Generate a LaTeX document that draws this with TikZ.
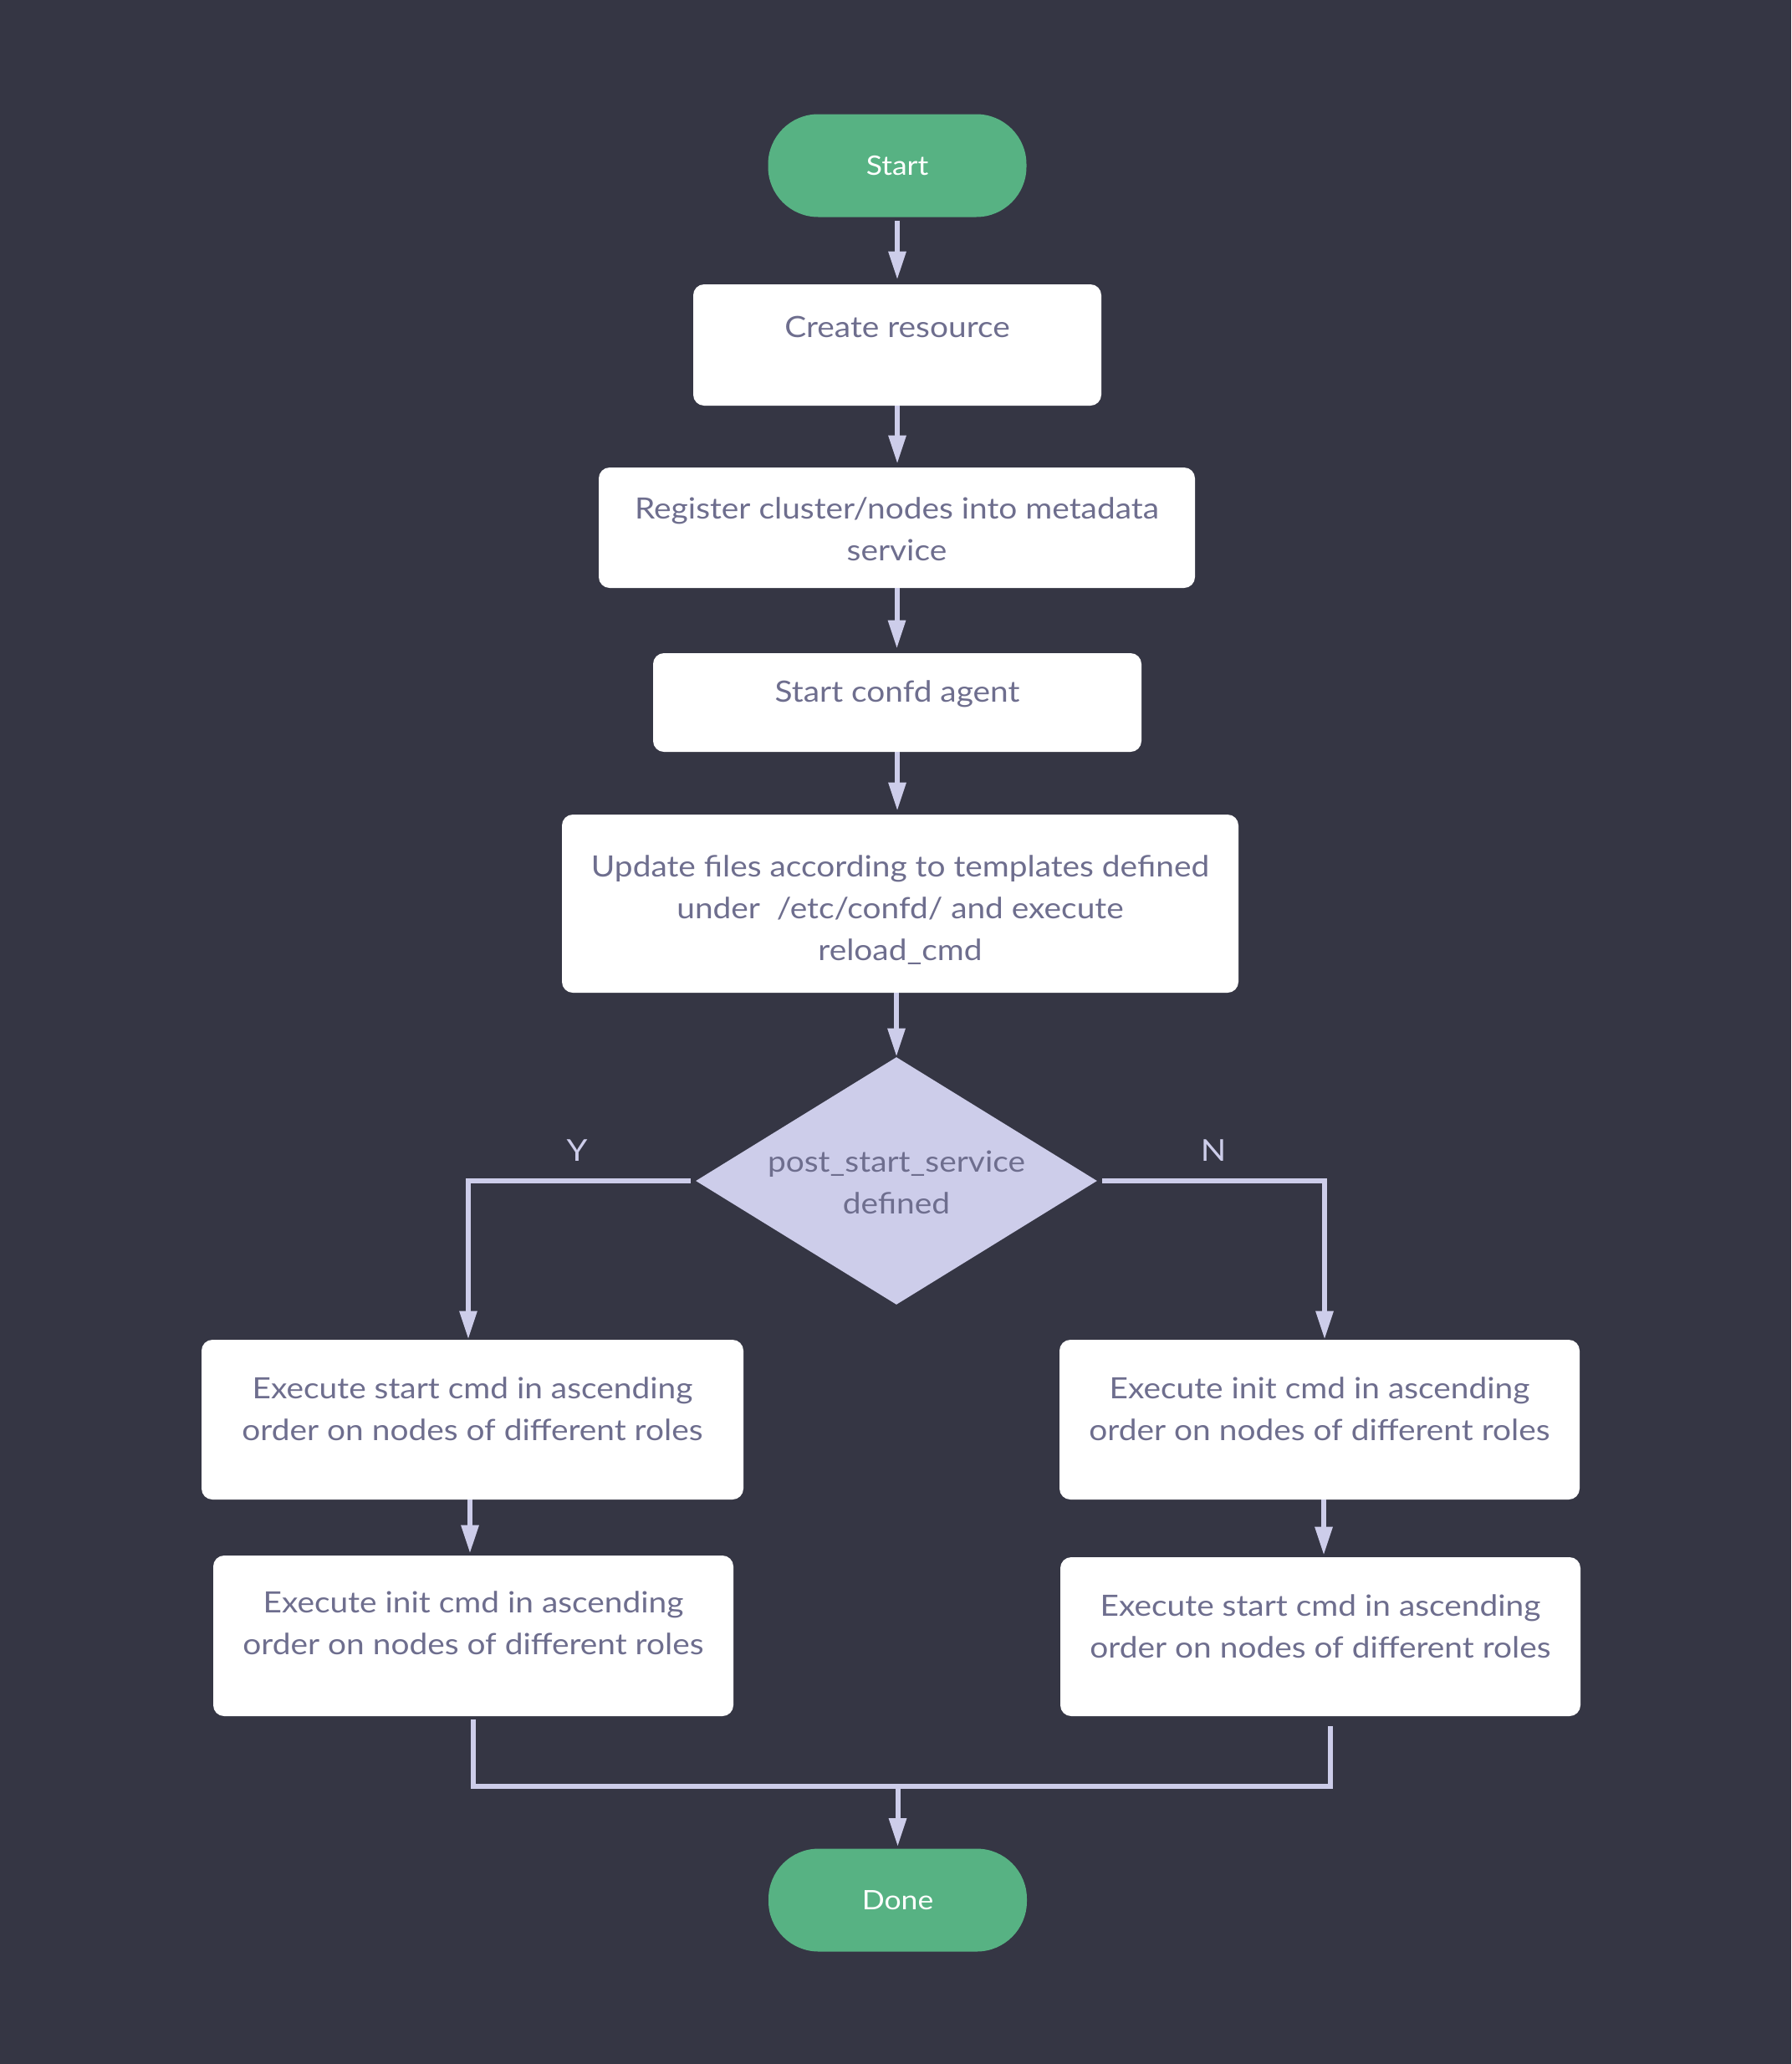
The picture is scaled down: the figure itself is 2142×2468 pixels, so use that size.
\documentclass[tikz,border=0pt]{standalone}
\usepackage{fontspec}
\setmainfont[FakeStretch=1.11]{Lato}
\usetikzlibrary{shapes.geometric,arrows.meta}
\definecolor{bgc}{HTML}{353644}
\definecolor{termgreen}{HTML}{57B283}
\definecolor{txtc}{HTML}{6E6E8E}
\definecolor{lav}{HTML}{CDCDEA}
\begin{document}
\begin{tikzpicture}[x=0.5pt,y=-0.5pt,
  box/.style={rectangle, rounded corners=6.5pt, fill=white, inner sep=0pt},
  term/.style={rectangle, rounded corners=30pt, fill=termgreen, inner sep=0pt,
    minimum width=154.5pt, minimum height=61.5pt},
  termtxt/.style={text=white, inner sep=0pt, font=\fontsize{16}{22}\selectfont},
  txt/.style={align=center, text=txtc, inner sep=0pt, font=\fontsize{17.5}{25}\selectfont},
  lbl/.style={text=lav, inner sep=0pt, font=\fontsize{18}{25}\selectfont},
  dec/.style={diamond, fill=lav, inner sep=0pt, minimum width=240pt, minimum height=148pt},
  ln/.style={draw=lav, line width=3pt},
  arr/.style={ln, -{Triangle[length=17pt,width=10pt]}}
]
\fill[bgc] (0,0) rectangle (2142,2468);
\useasboundingbox (0,0) rectangle (2142,2468);

% nodes
\node[term] (start) at (1073,198) {};
\node[termtxt] (startt) at (1073,201) {\strut Start};
\node[box, minimum width=244pt, minimum height=72.5pt] (create) at (1073,412.5) {};
\node[txt] (createt) at (1073,393) {\strut Create resource};
\node[box, minimum width=356.5pt, minimum height=72pt] (reg) at (1072.5,631) {};
\node[txt] (regt) at (1072.5,635.5) {\strut Register cluster/nodes into metadata\\\strut service};
\node[box, minimum width=292pt, minimum height=59pt] (confd) at (1073,840) {};
\node[txt] (confdt) at (1073,829) {\strut Start confd agent};
\node[box, minimum width=404.5pt, minimum height=106.5pt] (upd) at (1076.5,1080.5) {};
\node[txt] (updt) at (1076.5,1088.5) {\strut Update files according to templates defined\\\strut under\ \ /etc/confd/ and execute\\\strut reload\_cmd};
\node[dec] (dec) at (1072,1412) {};
\node[txt] (dect) at (1072,1416.5) {\strut post\_start\_service\\\strut defined};
\node[lbl] (ylbl) at (690,1378) {\strut Y};
\node[lbl] (nlbl) at (1451,1378) {\strut N};
\node[box, minimum width=324pt, minimum height=95.5pt] (l1) at (565,1697.5) {};
\node[txt] (l1t) at (565,1687) {\strut Execute start cmd in ascending\\\strut order on nodes of different roles};
\node[box, minimum width=311pt, minimum height=96pt] (l2) at (566,1956) {};
\node[txt] (l2t) at (566,1943) {\strut Execute init cmd in ascending\\\strut order on nodes of different roles};
\node[box, minimum width=311pt, minimum height=95.5pt] (r1) at (1578,1697.5) {};
\node[txt] (r1t) at (1578,1687) {\strut Execute init cmd in ascending\\\strut order on nodes of different roles};
\node[box, minimum width=311pt, minimum height=95pt] (r2) at (1579,1957) {};
\node[txt] (r2t) at (1579,1947) {\strut Execute start cmd in ascending\\\strut order on nodes of different roles};
\node[term] (done) at (1073.5,2272) {};
\node[termtxt] (donet) at (1073.5,2275) {\strut Done};

% connectors
\draw[arr, shorten <=2pt, shorten >=2.5pt] (start.south) -- (start.south |- create.north);
\draw[arr, shorten <=0pt, shorten >=2pt] (create.south) -- (create.south |- reg.north);
\draw[arr, shorten <=0pt, shorten >=2.5pt] (reg.south) -- (reg.south |- confd.north);
\draw[arr, shorten <=0pt, shorten >=2pt] (confd.south) -- (confd.south |- upd.north);
\draw[arr, shorten <=0pt] (upd.south -| dec.north) -- (dec.north);
\draw[arr, shorten <=3pt] (dec.west) -| ([xshift=-2.5pt]l1.north);
\draw[arr, shorten <=3pt] (dec.east) -| ([xshift=3pt]r1.north);
\draw[arr, shorten >=1pt] ([xshift=-1.5pt]l1.south) -- ([xshift=-1.5pt]l1.south |- l2.north);
\draw[arr, shorten >=1pt] ([xshift=2.5pt]r1.south) -- ([xshift=2.5pt]r1.south |- r2.north);
\coordinate (merge) at (1073.5,2136);
\draw[ln, shorten <=2pt] (l2.south) |- (merge);
\draw[ln, shorten <=6pt] ([xshift=6pt]r2.south) |- (merge);
\draw[arr, shorten >=1pt] (merge) -- (done.north);
\end{tikzpicture}
\end{document}
